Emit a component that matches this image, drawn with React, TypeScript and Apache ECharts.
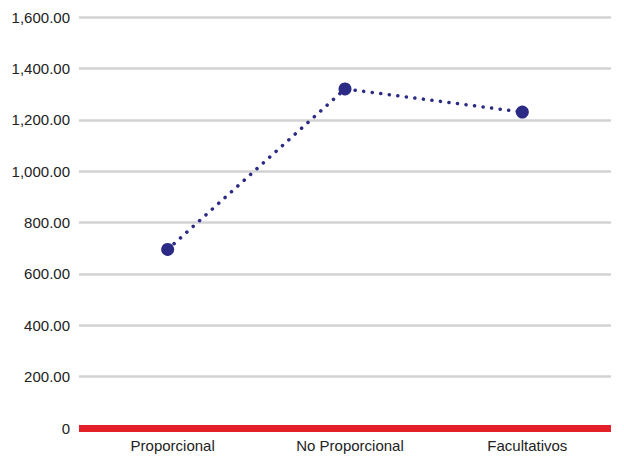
import React, { useEffect, useRef } from "react";
import * as echarts from "echarts";

const categories = ["Proporcional", "No Proporcional", "Facultativos"];
const values = [695, 1320, 1230];
const yTicks = { min: 0, max: 1600, interval: 200 };

export default function App() {
  const ref = useRef<HTMLDivElement>(null);
  useEffect(() => {
    if (!ref.current) return;
    const chart = echarts.init(ref.current, undefined, { renderer: "svg" });
    chart.setOption({
      animation: false,
      backgroundColor: "#ffffff",
      grid: { left: 79, right: 13, top: 17, bottom: 31 },
      xAxis: {
        type: "category",
        data: categories,
        boundaryGap: true,
        axisLine: {
          show: true,
          lineStyle: { color: "#e3202a", width: 7, cap: "butt" },
        },
        axisTick: { show: false },
        axisLabel: {
          color: "#222",
          fontFamily: "Liberation Sans, Arial, sans-serif",
          fontSize: 15,
          margin: 10,
          padding: [0, 0, 0, 10],
        },
      },
      yAxis: {
        type: "value",
        min: yTicks.min,
        max: yTicks.max,
        interval: yTicks.interval,
        axisLine: { show: false },
        axisTick: { show: false },
        splitLine: { show: true, lineStyle: { color: "#d2d2d2", width: 2.5 } },
        axisLabel: {
          color: "#222",
          fontFamily: "Liberation Sans, Arial, sans-serif",
          fontSize: 15,
          margin: 9,
          formatter: (v: number) =>
            v === 0
              ? "0"
              : v.toLocaleString("en-US", {
                  minimumFractionDigits: 2,
                  maximumFractionDigits: 2,
                }),
        },
      },
      series: [
        {
          type: "line",
          data: values,
          symbol: "circle",
          symbolSize: 13,
          itemStyle: { color: "#2b2a85" },
          lineStyle: {
            color: "#2b2a85",
            width: 3.5,
            type: [0.1, 8.5],
            cap: "round",
          },
        },
      ],
    });
    return () => chart.dispose();
  }, []);
  return (
    <div
      ref={ref}
      style={{ position: "fixed", left: 0, top: 0, width: 624, height: 459 }}
    />
  );
}
